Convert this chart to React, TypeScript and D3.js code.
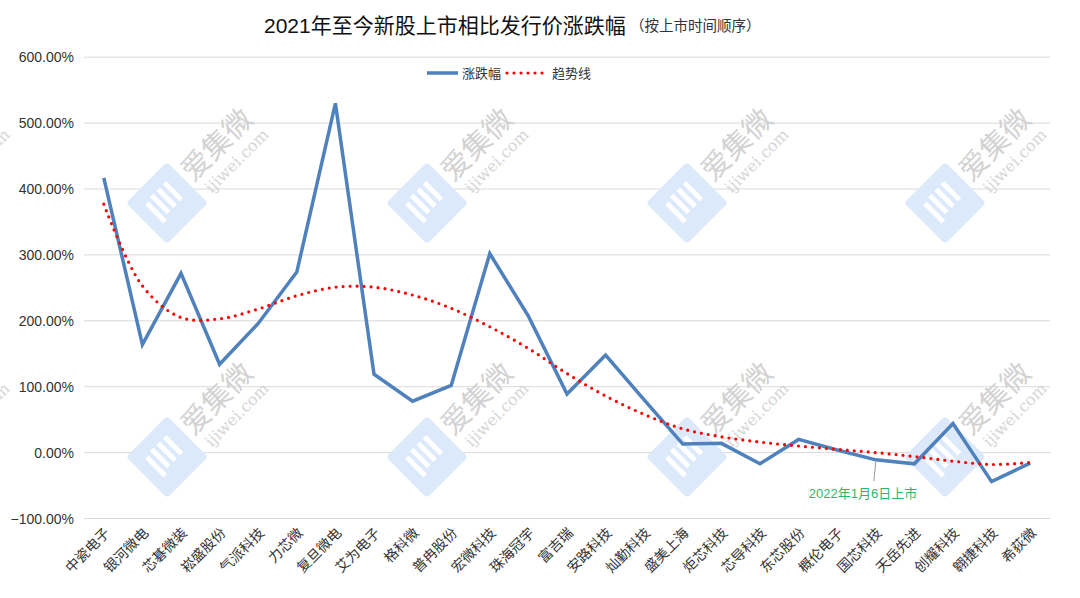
// App.tsx
import * as d3 from 'd3';
import React from 'react';

const companies = [
  '中瓷电子', '银河微电', '芯碁微装', '崧盛股份', '气派科技', '力芯微', '复旦微电',
  '艾为电子', '格科微', '普冉股份', '宏微科技', '珠海冠宇', '富吉瑞', '安路科技',
  '灿勤科技', '盛美上海', '炬芯科技', '芯导科技', '东芯股份', '概伦电子', '国芯科技',
  '天岳先进', '创耀科技', '翱捷科技', '希荻微',
];

// 涨跌幅 (%)
const changes = [
  417, 164, 272, 134, 196, 274, 530, 119, 78, 102, 302, 207, 89, 148,
  80, 13, 14, -17, 20, 4, -11, -17, 44, -44, -16,
];

// 趋势线 (%)
const trend = [
  377, 253, 205, 203, 218, 238, 251, 251, 239, 219, 191, 158, 120, 86,
  58, 36, 24, 16, 10, 5, 0, -6, -13, -18, -15,
];

const yTicks = [-100, 0, 100, 200, 300, 400, 500, 600];

const annotationIdx = 20;
const annotationText = '2022年1月6日上市';

const width = 1080;
const height = 598;
const sans = '"Liberation Sans", Arial, "Noto Sans CJK SC", sans-serif';
const cjk = '"Noto Sans CJK SC", "Liberation Sans", sans-serif';

const watermarkX = [-92, 167, 427, 687, 945];
const watermarkY = [203, 457];

function Watermark({ x, y }: { x: number; y: number }) {
  return (
    <g transform={`translate(${x},${y}) rotate(-45)`}>
      <rect x={-29} y={-29} width={58} height={58} rx={4} fill="#dce9fb" />
      <rect x={-17} y={-14} width={5} height={26} fill="#fff" />
      <rect x={-8} y={-16} width={5} height={24} fill="#fff" />
      <rect x={1} y={-16} width={5} height={24} fill="#fff" />
      <rect x={10} y={-16} width={5} height={24} fill="#fff" />
      <text x={33} y={4} fontSize={29} fill="#d2d2d2" fontFamily={cjk}>
        爱集微
      </text>
      <text x={38} y={25} fontSize={16} fill="#d6d6d6" fontFamily='"DejaVu Serif", serif'>
        ijiwei.com
      </text>
    </g>
  );
}

export default function App() {
  const x = d3.scaleBand<string>().domain(companies).range([84.5, 1049.5]);
  const cx = (name: string) => (x(name) ?? 0) + x.bandwidth() / 2;
  const y = d3.scaleLinear().domain([-100, 600]).range([518.5, 57.2]);

  const line = d3
    .line<number>()
    .x((_, i) => cx(companies[i]))
    .y(d => y(d));

  const trendLine = d3
    .line<number>()
    .x((_, i) => cx(companies[i]))
    .y(d => y(d))
    .curve(d3.curveCatmullRom.alpha(0.5));

  const annX = cx(companies[annotationIdx]);

  return (
    <svg
      width={width}
      height={height}
      style={{ position: 'absolute', left: 0, top: 0, background: '#fff' }}
    >
      <rect width={width} height={height} fill="#fff" />

      {/* title */}
      <text x={264} y={33} fontSize={21} fill="#111" fontFamily={sans}>
        2021年至今新股上市相比发行价涨跌幅
      </text>
      <text x={630} y={31} fontSize={14.5} fill="#333" fontFamily={cjk}>
        （按上市时间顺序）
      </text>

      {/* grid + y labels */}
      <g>
        {yTicks.map(t => (
          <g key={t}>
            <line x1={84} x2={1050} y1={y(t)} y2={y(t)} stroke="#d9d9d9" strokeWidth={1} />
            <text
              x={74}
              y={y(t)}
              dy="0.36em"
              textAnchor="end"
              fontSize={14}
              fill="#333"
              fontFamily={sans}
            >
              {d3.format('.2f')(t)}%
            </text>
          </g>
        ))}
      </g>

      {/* watermarks */}
      <g>
        {watermarkY.map(wy =>
          watermarkX.map(wx => <Watermark key={`${wx}-${wy}`} x={wx} y={wy} />)
        )}
      </g>

      {/* legend */}
      <g fontFamily={cjk} fontSize={13} fill="#333">
        <line x1={427} x2={458} y1={73} y2={73} stroke="#4f81bd" strokeWidth={3.5} />
        <text x={462} y={73} dy="0.36em">涨跌幅</text>
        <line
          x1={507}
          x2={543}
          y1={73}
          y2={73}
          stroke="#ff0000"
          strokeWidth={3.2}
          strokeLinecap="round"
          strokeDasharray="0 7"
        />
        <text x={552} y={73} dy="0.36em">趋势线</text>
      </g>

      {/* series */}
      <path
        d={line(changes) ?? ''}
        fill="none"
        stroke="#4f81bd"
        strokeWidth={3.5}
        strokeLinejoin="miter"
      />
      <path
        d={trendLine(trend) ?? ''}
        fill="none"
        stroke="#ff0000"
        strokeWidth={3.2}
        strokeLinecap="round"
        strokeDasharray="0 7"
      />

      {/* annotation */}
      <line
        x1={annX}
        x2={annX - 2}
        y1={y(changes[annotationIdx]) + 2}
        y2={481}
        stroke="#999"
        strokeWidth={1}
      />
      <text x={863} y={493} dy="0.36em" textAnchor="middle" fontSize={13} fill="#2bb866" fontFamily={sans}>
        {annotationText}
      </text>

      {/* x labels */}
      <g fontFamily={cjk} fontSize={14} fill="#333">
        {companies.map(c => (
          <text
            key={c}
            transform={`translate(${cx(c)},${527}) rotate(-45)`}
            textAnchor="end"
            dy="0.7em"
          >
            {c}
          </text>
        ))}
      </g>
    </svg>
  );
}
